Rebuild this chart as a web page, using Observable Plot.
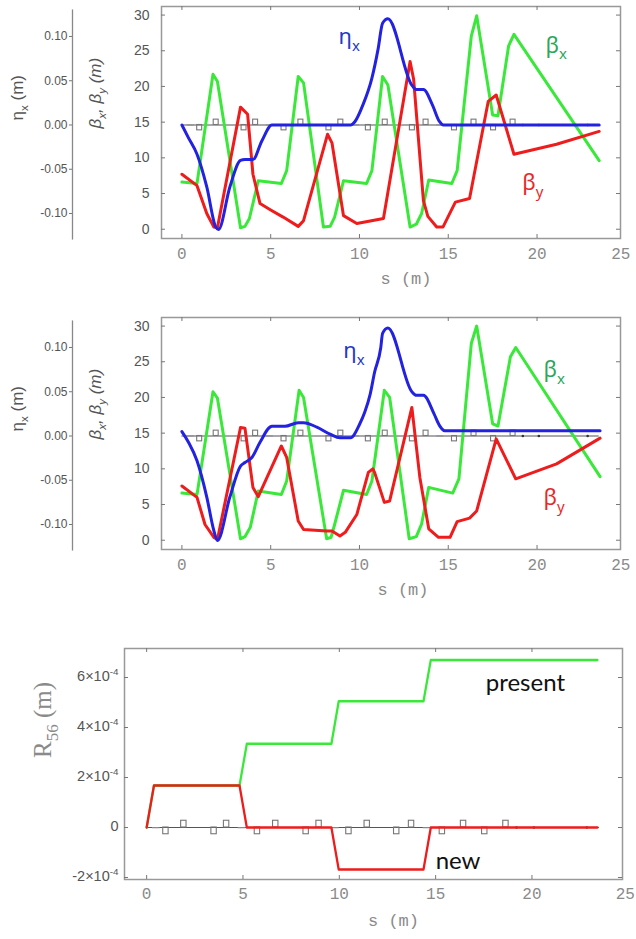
<!DOCTYPE html>
<html><head><meta charset="utf-8">
<script src="https://cdn.jsdelivr.net/npm/d3@7"></script>
<script src="https://cdn.jsdelivr.net/npm/@observablehq/plot@0.6"></script>
<style>body{margin:0;background:#fff} #fig svg{display:block}</style>
</head><body><div id="fig"></div>
<script>
// ---------- axis ticks ----------
const sTicks = [0, 5, 10, 15, 20, 25];
const betaTicks = [0, 5, 10, 15, 20, 25, 30];
const etaTicks = [-0.10, -0.05, 0, 0.05, 0.10];
const r56Ticks = [-2e-4, 0, 2e-4, 4e-4, 6e-4];
const r56TickLabels = ["-2×10^{-4}", "0", "2×10^{-4}", "4×10^{-4}", "6×10^{-4}"];

// ---------- lattice (quadrupole centres, +1 focusing / -1 defocusing) ----------
const quadS   = [1.0, 1.93, 3.5, 4.15, 5.75, 6.7, 8.28, 8.95, 10.5, 11.45, 12.98, 13.75, 15.35, 16.45, 17.55, 18.65];
const quadDir = [-1, 1, -1, 1, -1, 1, -1, 1, -1, 1, -1, 1, -1, 1, -1, 1];
const dipoleS = [0.5, 4.95, 9.8, 14.55];
const markerS = [19.2, 20.1, 22.85];
const latticeEnd = 23.5;

// ---------- top panel (present optics) ----------
const topBx = [[0,6.6],[0.85,6.4],[1.75,21.7],[2.0,20.7],[3.3,0.2],[3.55,0.4],[3.8,1.5],[4.3,6.8],[5.6,6.4],[5.9,8.2],[6.55,21.4],[6.85,20.5],[7.97,0.3],[8.35,0.4],[8.6,1.7],[9.1,6.8],[10.4,6.4],[10.7,8.2],[11.3,21.4],[11.6,20.2],[12.85,0.3],[13.2,0.7],[13.5,2.2],[13.9,6.9],[15.2,6.4],[15.5,8.2],[16.3,27.1],[16.6,29.9],[17.5,16.0],[17.8,15.9],[18.4,25.7],[18.7,27.3],[23.5,9.6]];
const topBy = [[0,7.7],[0.85,6.1],[1.4,2.2],[1.8,0.3],[2.0,0.2],[3.3,17.1],[3.7,16.1],[4.0,7.7],[4.4,3.6],[5.0,2.7],[5.7,1.7],[6.55,0.4],[6.85,1.2],[8.2,13.3],[8.45,12.1],[9.1,1.9],[9.85,0.8],[11.35,1.5],[12.85,23.5],[13.05,21.0],[13.6,4.0],[13.85,1.8],[14.35,0.3],[14.7,0.3],[15.4,3.8],[16.2,4.3],[17.25,17.9],[17.7,18.8],[18.7,10.5],[21.1,11.9],[23.5,13.7]];
const topEta = [[0,0],[0.37,-0.0145],[0.85,-0.033],[1.4,-0.070],[1.9,-0.115],[2.06,-0.118],[2.7,-0.070],[3.3,-0.040],[3.55,-0.039],[4.0,-0.039],[4.5,-0.018],[5.07,0],[9.5,0],[9.75,0.004],[10.2,0.023],[10.7,0.053],[11.05,0.086],[11.3,0.115],[11.6,0.120],[12.95,0.045],[13.2,0.040],[13.6,0.040],[14.1,0.023],[14.5,0.004],[14.73,0],[23.5,0]];

// ---------- middle panel (new optics) ----------
const midBx = [[0,6.6],[0.85,6.4],[1.75,20.8],[2.0,19.9],[3.3,0.2],[3.55,0.5],[3.85,1.8],[4.3,6.9],[5.6,6.4],[5.9,8.3],[6.6,21.0],[6.85,20.0],[8.15,0.2],[8.4,0.4],[8.6,2.2],[9.1,7.0],[10.4,6.4],[10.7,8.3],[11.4,21.0],[11.7,20.0],[12.8,0.2],[13.2,0.5],[13.5,2.3],[13.9,7.4],[15.25,6.6],[15.6,8.6],[16.3,27.6],[16.6,30.0],[17.5,16.3],[17.8,16.0],[18.5,25.7],[18.8,27.0],[23.55,8.9]];
const midBy = [[0,7.6],[0.85,6.0],[1.3,2.2],[1.8,0.4],[2.0,0.1],[3.3,15.8],[3.55,15.7],[4.0,7.4],[4.3,6.1],[5.6,13.2],[5.9,11.6],[6.55,2.7],[6.85,1.5],[8.15,1.3],[8.45,1.3],[8.9,0.6],[9.2,1.1],[9.85,3.6],[10.5,9.5],[10.75,10.0],[10.85,9.5],[11.4,5.3],[11.7,5.5],[12.95,18.6],[13.4,8.8],[13.9,1.6],[14.45,0.4],[15.1,0.4],[15.5,2.6],[16.2,3.1],[16.6,4.1],[17.7,14.2],[18.8,8.6],[21.1,10.7],[23.55,14.3]];
const midEta = [[0,0.005],[0.37,-0.007],[0.85,-0.028],[1.4,-0.069],[1.8,-0.107],[2.0,-0.118],[2.7,-0.069],[3.3,-0.034],[3.55,-0.030],[3.95,-0.024],[4.4,-0.007],[5.07,0.011],[5.8,0.011],[6.55,0.015],[6.85,0.015],[7.6,0.010],[8.35,0.002],[8.9,-0.002],[9.5,-0.002],[10.0,0.013],[10.3,0.027],[10.6,0.047],[10.85,0.072],[11.2,0.100],[11.3,0.116],[11.6,0.122],[12.95,0.050],[13.2,0.046],[13.6,0.046],[14.2,0.025],[14.5,0.012],[14.8,0.006],[23.55,0.006]];

// ---------- bottom panel R56 ----------
const r56Present = [[0,0],[0.38,1.68e-4],[4.82,1.68e-4],[5.2,3.35e-4],[9.59,3.35e-4],[9.97,5.05e-4],[14.37,5.05e-4],[14.75,6.7e-4],[23.4,6.7e-4]];
const r56New = [[0,0],[0.38,1.68e-4],[4.82,1.68e-4],[5.2,0],[9.59,0],[9.97,-1.68e-4],[14.37,-1.68e-4],[14.75,0],[23.4,0]];

// ---------- curve labels ----------
const topLabels = [{s:8.82,v:26.9,t:"η_x",c:"#2438c8",w:700},{s:20.47,v:25.7,t:"β_x",c:"#2aa85a",w:500},{s:19.17,v:6.45,t:"β_y",c:"#e82828",w:500}];
const midLabels = [{s:9.09,v:26.5,t:"η_x",c:"#2438c8",w:700},{s:20.36,v:23.8,t:"β_x",c:"#2aa85a",w:500},{s:20.36,v:5.9,t:"β_y",c:"#e82828",w:500}];
const r56Labels = [{s:17.6,v:5.48e-4,t:"present"},{s:15.0,v:-1.64e-4,t:"new"}];

// ---------- styling ----------
const SANS = "Liberation Sans, Arial, sans-serif";
const MONO = "Liberation Mono, Courier New, monospace";
const GREEN = "#3ae83a", RED = "#ee1c1c", BLUE = "#2222e0";
const FRAME = "#999";
const W = 636;
const xDomain = [-1.15, 24.7];
const ETA0 = 14.6, ETAK = 124;          // eta (m) drawn on the beta scale
const toB = e => ETA0 + e * ETAK;

function latticeMarks(zero, qh, dh) {
  const quads = quadS.map((s, i) => ({s, dir: quadDir[i]}));
  return [
    Plot.ruleY([zero], {y: d => d, x1: 0, x2: latticeEnd, stroke: "#555", strokeWidth: 1.2}),
    Plot.rect(quads, {x1: d => d.s - 0.14, x2: d => d.s + 0.14, y1: () => zero, y2: d => zero + d.dir * qh, fill: "none", stroke: "#777", strokeWidth: 1.1}),
    Plot.rect(dipoleS, {x1: d => d - 0.2, x2: d => d + 0.2, y1: () => zero, y2: () => zero - dh, fill: "#888"}),
    Plot.dot(markerS, {x: d => d, y: () => zero, r: 1.3, fill: "#333"})
  ];
}

function xLabels(dy, lastDx) {
  const mono = {frameAnchor: "bottom", dy, fontFamily: MONO, fontSize: 16, fill: "#8a8a8a"};
  return [
    Plot.text(sTicks.slice(0, -1), {x: d => d, text: d => String(d), ...mono}),
    Plot.text(sTicks.slice(-1), {x: d => d, text: d => String(d), ...mono, dx: lastDx})
  ];
}

function betaPanel({bx, by, eta, labels, height, marginTop, sdx}) {
  const ph = 232, pw = W - 161 - 16;
  return Plot.plot({
    width: W, height, marginLeft: 161, marginRight: 16, marginTop, marginBottom: height - marginTop - ph,
    x: {domain: xDomain, axis: null}, y: {domain: [-1.3, 31.2], axis: null},
    style: {fontFamily: SANS, background: "white"},
    marks: [
      ...latticeMarks(toB(0), 0.75, 0.12),
      Plot.line(bx, {x: d => d[0], y: d => d[1], stroke: GREEN, strokeWidth: 3}),
      Plot.line(by, {x: d => d[0], y: d => d[1], stroke: RED, strokeWidth: 3}),
      Plot.line(eta, {x: d => d[0], y: d => toB(d[1]), stroke: BLUE, strokeWidth: 3, curve: "monotone-x"}),
      Plot.frame({stroke: FRAME, strokeWidth: 1.5}),
      Plot.tickX(sTicks.slice(0, 5), {x: d => d, insetTop: ph - 4, stroke: "#777"}),
      Plot.tickX(sTicks.slice(0, 5), {x: d => d, insetBottom: ph - 4, stroke: "#777"}),
      Plot.tickY(betaTicks, {y: d => d, insetRight: pw - 4, stroke: "#777"}),
      Plot.tickY(betaTicks, {y: d => d, insetLeft: pw - 4, stroke: "#777"}),
      ...xLabels(20, -5),
      Plot.text(["s (m)"], {frameAnchor: "bottom", dy: 45, dx: sdx, fontFamily: MONO, fontSize: 17, fill: "#8a8a8a"}),
      Plot.text(betaTicks, {y: d => d, text: d => String(d), frameAnchor: "left", dx: -12, textAnchor: "end", fontSize: 14, fill: "#555"}),
      // eta axis
      Plot.ruleX([xDomain[0]], {x: d => d, y1: toB(-0.13), y2: toB(0.13), dx: -89, stroke: "#888", strokeWidth: 1.3}),
      Plot.tickY(etaTicks, {y: d => toB(d), dx: -92, insetRight: pw - 3, stroke: "#777"}),
      Plot.text(etaTicks, {y: d => toB(d), text: d => d.toFixed(2), frameAnchor: "left", dx: -94, textAnchor: "end", fontSize: 12, fill: "#555"}),
      Plot.text(["η_x (m)"], {frameAnchor: "left", dx: -144, dy: -2, rotate: -90, fontSize: 17, fill: "#555"}),
      Plot.text(["β_x, β_y (m)"], {frameAnchor: "left", dx: -66, dy: 6, rotate: -90, fontSize: 17, fill: "#555", fontStyle: "italic"}),
      Plot.text(labels, {x: "s", y: "v", text: "t", fill: "c", fontWeight: "w", textAnchor: "start", fontSize: 22, fontFamily: "Noto Sans, Open Sans, sans-serif"})
    ]
  });
}

function r56Panel() {
  const ph = 231, pw = W - 124 - 14;
  return Plot.plot({
    width: W, height: 329, marginLeft: 124, marginRight: 14, marginTop: 38, marginBottom: 60,
    x: {domain: xDomain, axis: null}, y: {domain: [-2.08e-4, 7.16e-4], axis: null},
    style: {fontFamily: SANS, background: "white"},
    marks: [
      ...latticeMarks(0, 0.27e-4, 0.05e-4),
      Plot.line(r56Present, {x: d => d[0], y: d => d[1], stroke: GREEN, strokeWidth: 2.3}),
      Plot.line(r56New, {x: d => d[0], y: d => d[1], stroke: RED, strokeWidth: 2.3}),
      Plot.frame({stroke: FRAME, strokeWidth: 1.5}),
      Plot.tickX(sTicks.slice(0, 5), {x: d => d, insetTop: ph - 4, stroke: "#777"}),
      Plot.tickX(sTicks.slice(0, 5), {x: d => d, insetBottom: ph - 4, stroke: "#777"}),
      Plot.tickY(r56Ticks, {y: d => d, insetRight: pw - 4, stroke: "#777"}),
      Plot.tickY(r56Ticks, {y: d => d, insetLeft: pw - 4, stroke: "#777"}),
      ...xLabels(19, -3),
      Plot.text(["s (m)"], {frameAnchor: "bottom", dy: 46, dx: 20, fontFamily: MONO, fontSize: 17, fill: "#8a8a8a"}),
      Plot.text(r56Ticks, {y: d => d, text: (d, i) => r56TickLabels[i], frameAnchor: "left", dx: -6, dy: -1, textAnchor: "end", fontSize: 14.5, fill: "#555"}),
      Plot.text(["R_{56} (m)"], {frameAnchor: "left", dx: -82, dy: -6, rotate: -90, fontSize: 25, fill: "#8a8a8a", fontFamily: "Liberation Serif, serif"}),
      Plot.text(r56Labels, {x: "s", y: "v", text: "t", textAnchor: "start", lineAnchor: "bottom", fontSize: 24, fill: "#111", fontFamily: "Lato, Open Sans, sans-serif"})
    ]
  });
}

// sub/superscript markup: _x, _{56}, ^{-4}
function richText(svg) {
  svg.querySelectorAll("text").forEach(t => {
    if (t.querySelector("tspan")) return;
    const s = t.textContent;
    if (!/[_^]/.test(s)) return;
    const fs = parseFloat(getComputedStyle(t).fontSize) || 12;
    t.textContent = "";
    const re = /([_^])(?:\{([^}]*)\}|(.))|([^_^]+)/g;
    let m, shift = 0;
    while ((m = re.exec(s))) {
      const ts = document.createElementNS("http://www.w3.org/2000/svg", "tspan");
      let target = 0, txt, size = null;
      if (m[4] !== undefined) { txt = m[4]; }
      else { txt = m[2] !== undefined ? m[2] : m[3]; target = m[1] === "_" ? 0.3 * fs : -0.42 * fs; size = 0.68 * fs; }
      ts.textContent = txt;
      const dy = target - shift;
      if (dy) ts.setAttribute("dy", dy);
      if (size) ts.setAttribute("font-size", size);
      shift = target;
      t.appendChild(ts);
    }
  });
}

const fig = document.getElementById("fig");
const p1 = betaPanel({bx: topBx, by: topBy, eta: topEta, labels: topLabels, height: 300, marginTop: 6, sdx: 15});
const p2 = betaPanel({bx: midBx, by: midBy, eta: midEta, labels: midLabels, height: 310, marginTop: 17, sdx: 12});
const p3 = r56Panel();
[p1, p2, p3].forEach(p => { fig.appendChild(p); richText(p); });
</script>
</body></html>
